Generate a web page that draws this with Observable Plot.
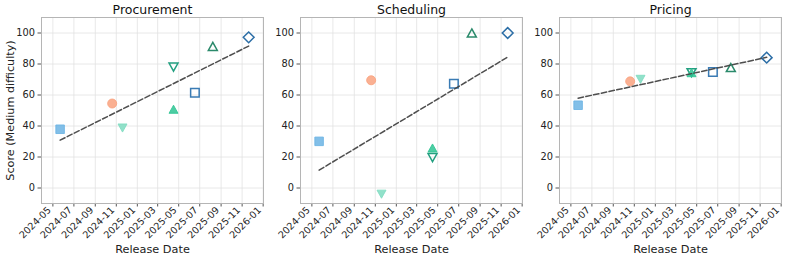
<!DOCTYPE html>
<html>
<head>
<meta charset="utf-8">
<script src="https://cdn.jsdelivr.net/npm/d3@7"></script>
<script src="https://cdn.jsdelivr.net/npm/@observablehq/plot@0.6"></script>
<style>
  html, body { margin: 0; padding: 0; background: #fff; }
  #chart { position: relative; width: 793px; height: 261px; overflow: hidden; font-family: "DejaVu Sans", sans-serif; }
  #chart svg { position: absolute; top: 0; overflow: visible; background: transparent; }
</style>
</head>
<body>
<div id="chart"></div>
<script>
// ---- data ----
const models = ["Model 1", "Model 2", "Model 3", "Model 4", "Model 5", "Model 6", "Model 7", "Model 8"];
const releaseDates = ["2024-05-22", "2024-10-20", "2024-11-19", "2025-04-16", "2025-04-16", "2025-06-17", "2025-08-08", "2025-11-20"];
const markerShapes = ["square", "circle", "triangle-down", "triangle-up", "triangle-down", "square", "triangle-up", "diamond"];
const markerFilled = [true, true, true, true, false, false, false, false];
const markerColors = ["#6cb4e4", "#f9a27f", "#7fdcc1", "#2ec493", "#239f80", "#3a7bb4", "#2b8a6b", "#2c6ea6"];

const panelTitles = ["Procurement", "Scheduling", "Pricing"];
const procurementScores = [37.9, 54.5, 38.7, 50.8, 78.0, 61.5, 91.4, 97.2];
const schedulingScores  = [30.1, 69.5, -4.0, 25.8, 19.6, 67.3, 100.0, 100.0];
const pricingScores     = [53.4, 68.8, 70.1, 74.4, 74.4, 74.8, 77.7, 84.1];
const panelScores = [procurementScores, schedulingScores, pricingScores];

const xTickLabels = ["2024-05", "2024-07", "2024-09", "2024-11", "2025-01", "2025-03", "2025-05", "2025-07", "2025-09", "2025-11", "2026-01"];
const yTickValues = [0, 20, 40, 60, 80, 100];
const yLabel = "Score (Medium difficulty)";
const xLabel = "Release Date";

// ---- symbols (matplotlib-like shapes) ----
function makeSymbol(shape) {
  return {
    draw(ctx, size) {
      const r = Math.sqrt(size / Math.PI);
      if (shape === "circle") {
        ctx.moveTo(r, 0); ctx.arc(0, 0, r, 0, 2 * Math.PI);
      } else if (shape === "square") {
        const s = r * 0.95;
        ctx.moveTo(-s, -s); ctx.lineTo(s, -s); ctx.lineTo(s, s); ctx.lineTo(-s, s); ctx.closePath();
      } else if (shape === "triangle-up") {
        ctx.moveTo(0, -0.9 * r); ctx.lineTo(r, 0.9 * r); ctx.lineTo(-r, 0.9 * r); ctx.closePath();
      } else if (shape === "triangle-down") {
        ctx.moveTo(0, 0.9 * r); ctx.lineTo(r, -0.9 * r); ctx.lineTo(-r, -0.9 * r); ctx.closePath();
      } else if (shape === "diamond") {
        const d = 1.2 * r;
        ctx.moveTo(0, -d); ctx.lineTo(d, 0); ctx.lineTo(0, d); ctx.lineTo(-d, 0); ctx.closePath();
      }
    }
  };
}
const shapeNames = ["square", "circle", "triangle-down", "triangle-up", "diamond"];

const parse = d3.utcParse("%Y-%m-%d");
const xTicks = xTickLabels.map(s => parse(s + "-01"));
const xDomain = [parse("2024-03-29"), parse("2026-01-02")];

const frameLefts = [41, 300, 559];
const marginLeft = 41, marginRight = 3, innerW = 222;
const container = document.getElementById("chart");

panelScores.forEach((scores, p) => {
  const rows = models.map((m, i) => ({
    model: m, date: parse(releaseDates[i]), score: scores[i],
    shape: markerShapes[i], filled: markerFilled[i], color: markerColors[i]
  }));
  const dotMarks = [];
  for (const sh of shapeNames) {
    const sym = makeSymbol(sh);
    dotMarks.push(Plot.dot(rows.filter(d => d.shape === sh && d.filled), {
      x: "date", y: "score", symbol: sym, r: 4.5,
      fill: "color", fillOpacity: 0.85, stroke: "color", strokeOpacity: 0.85, strokeWidth: 1
    }));
    dotMarks.push(Plot.dot(rows.filter(d => d.shape === sh && !d.filled), {
      x: "date", y: "score", symbol: sym, r: 4.5,
      fill: "none", stroke: "color", strokeWidth: 1.5
    }));
  }
  const svg = Plot.plot({
    width: marginLeft + innerW + marginRight,
    height: 261,
    marginLeft, marginRight, marginTop: 17, marginBottom: 58,
    style: { fontFamily: "DejaVu Sans, sans-serif", background: "transparent", overflow: "visible" },
    x: { type: "utc", domain: xDomain },
    y: { domain: [-10, 110] },
    color: { type: "identity" },
    marks: [
      Plot.gridX(xTicks, { stroke: "#e2e2e2", strokeOpacity: 1, strokeWidth: 0.8 }),
      Plot.gridY(yTickValues, { stroke: "#e2e2e2", strokeOpacity: 1, strokeWidth: 0.8 }),
      Plot.axisY(yTickValues, { tickSize: 3.5, tickPadding: 3, fontSize: 9.8, stroke: "#555", label: null, color: "#222" }),
      Plot.axisX(xTicks, { tickSize: 3.5, tickPadding: 1, tickRotate: -45, fontSize: 9.6, stroke: "#555",
        tickFormat: d3.utcFormat("%Y-%m"), label: null, color: "#222", textStroke: "none" }),
      Plot.frame({ stroke: "#b5b5b5", strokeWidth: 1 }),
      ...dotMarks,
      Plot.linearRegressionY(rows, { x: "date", y: "score", ci: 0, stroke: "#444", strokeWidth: 1.5,
        strokeDasharray: "5.5,2.4", strokeOpacity: 0.95 }),
      Plot.text([panelTitles[p]], { frameAnchor: "top", dy: -8, lineAnchor: "middle", fontSize: 12.5, fill: "#111" }),
      Plot.text([xLabel], { frameAnchor: "bottom", dy: 46, lineAnchor: "middle", fontSize: 11.3, fill: "#222" }),
      ...(p === 0 ? [Plot.text([yLabel], { frameAnchor: "left", dx: -31, rotate: -90, textAnchor: "middle", lineAnchor: "middle", fontSize: 11.2, fill: "#222" })] : [])
    ]
  });
  // nudge rotated x tick labels so their bounding box ends at the tick (matplotlib-style)
  svg.querySelectorAll("g[aria-label='x-axis tick label'] text").forEach(t => {
    const tr = t.getAttribute("transform") || "";
    t.setAttribute("transform", "translate(-3.5,0.5) " + tr);
  });
  svg.style.left = (frameLefts[p] - marginLeft) + "px";
  container.appendChild(svg);
});
</script>
</body>
</html>
